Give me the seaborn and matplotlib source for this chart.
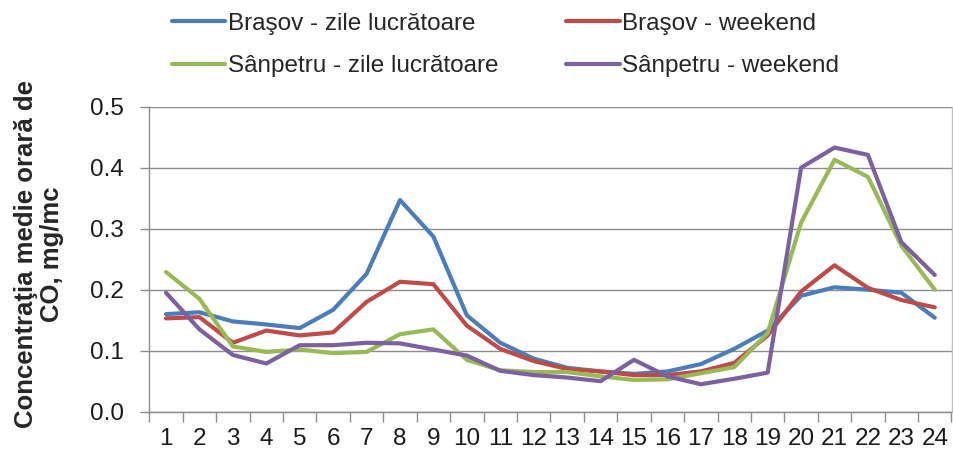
import numpy as np
import pandas as pd
import matplotlib
matplotlib.use("Agg")
import matplotlib.pyplot as plt
import seaborn as sns
from matplotlib.ticker import FixedLocator

hours = list(range(1, 25))
brasov_zile = [0.160, 0.163, 0.148, 0.143, 0.137, 0.167, 0.226, 0.347, 0.287, 0.158,
               0.113, 0.087, 0.072, 0.066, 0.062, 0.066, 0.078, 0.103, 0.133, 0.190,
               0.204, 0.200, 0.195, 0.154]
brasov_weekend = [0.153, 0.155, 0.113, 0.133, 0.125, 0.130, 0.180, 0.213, 0.209, 0.141,
                  0.103, 0.083, 0.070, 0.066, 0.060, 0.060, 0.066, 0.080, 0.125, 0.197,
                  0.240, 0.203, 0.183, 0.171]
sanpetru_zile = [0.229, 0.185, 0.107, 0.098, 0.102, 0.096, 0.098, 0.127, 0.135, 0.085,
                 0.068, 0.065, 0.065, 0.058, 0.052, 0.053, 0.063, 0.073, 0.129, 0.310,
                 0.413, 0.385, 0.272, 0.200]
sanpetru_weekend = [0.195, 0.135, 0.093, 0.079, 0.109, 0.109, 0.113, 0.112, 0.102, 0.092,
                    0.067, 0.060, 0.056, 0.050, 0.085, 0.058, 0.045, 0.054, 0.064, 0.400,
                    0.433, 0.421, 0.278, 0.224]
series_names = ["Braşov - zile lucrătoare", "Braşov - weekend",
                "Sânpetru - zile lucrătoare", "Sânpetru - weekend"]
colors = ["#4A7EBB", "#BE4B48", "#98B954", "#7D60A0"]
y_ticks = [0.0, 0.1, 0.2, 0.3, 0.4, 0.5]
y_label = "Concentraţia medie orară de\nCO, mg/mc"

frames = []
for name, vals in zip(series_names, [brasov_zile, brasov_weekend, sanpetru_zile, sanpetru_weekend]):
    frames.append(pd.DataFrame({"hour": hours, "value": vals, "series": name}))
df = pd.concat(frames, ignore_index=True)

sns.set_style("white")
plt.rcParams["font.family"] = ["Liberation Sans", "DejaVu Sans"]

fig = plt.figure(figsize=(9.54, 4.54), dpi=100)
ax = fig.add_axes([149.3 / 954, 1 - 411.7 / 454, (951.5 - 149.3) / 954, (411.7 - 106.7) / 454])

sns.lineplot(data=df, x="hour", y="value", hue="series", hue_order=series_names,
             palette=dict(zip(series_names, colors)), linewidth=3.0, ax=ax, legend=True)

ax.set_xlim(0.5, 24.5)
ax.set_ylim(0, 0.5)
ax.set_xticks(hours)
ax.set_xticklabels([str(h) for h in hours])
ax.xaxis.set_minor_locator(FixedLocator(np.arange(0.5, 25.0, 1.0)))
ax.set_yticks(y_ticks)
ax.set_yticklabels([f"{v:.1f}" for v in y_ticks])
ax.set_xlabel("")
ax.set_ylabel("")

gcol = "#8C8C8C"
ax.grid(axis="y", color=gcol, linewidth=1.0)
ax.grid(axis="x", visible=False)
ax.set_axisbelow(True)
for s in ["left", "bottom"]:
    ax.spines[s].set_color(gcol)
    ax.spines[s].set_linewidth(1.0)
ax.spines["top"].set_visible(False)
ax.spines["right"].set_color("#BFBFBF")
ax.spines["right"].set_linewidth(1.0)

ax.tick_params(axis="x", which="major", length=0, pad=12, labelsize=17.5, labelcolor="#1a1a1a")
ax.tick_params(axis="x", which="minor", length=7, width=1.0, color=gcol, direction="out", bottom=True)
ax.tick_params(axis="y", which="major", length=6.5, width=1.0, color=gcol, direction="out",
               pad=12, labelsize=17.5, labelcolor="#1a1a1a", left=True)

fig.text(39 / 954, 1 - 254 / 454, y_label, rotation=90, ha="center", va="center",
         multialignment="center", fontsize=18.5, fontweight="bold", linespacing=1.12)

handles, labels = ax.get_legend_handles_labels()
ax.get_legend().remove()
order = [0, 2, 1, 3]
fig.legend([handles[i] for i in order], [labels[i] for i in order], loc="upper left",
           bbox_to_anchor=(172 / 954, 0.972), ncol=2,
           frameon=False, fontsize=17.5, handlelength=2.2, handletextpad=0.1,
           columnspacing=2.8, labelspacing=0.85, borderpad=0, borderaxespad=0)

fig.savefig("out.png", dpi=100)
